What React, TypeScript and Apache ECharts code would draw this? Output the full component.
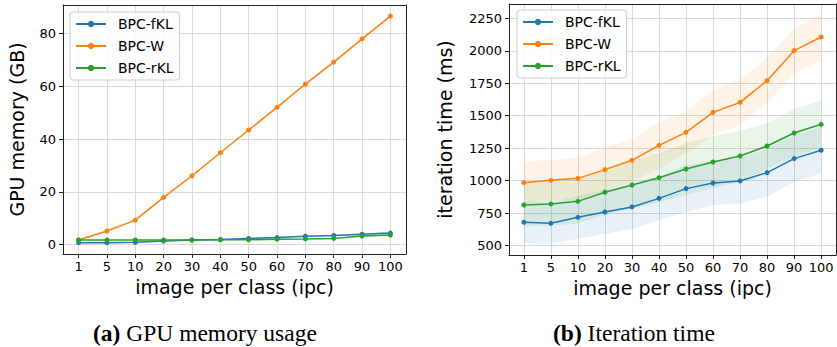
import React, { useEffect, useRef } from 'react';
import * as echarts from 'echarts';

const ipcLabels = ['1', '5', '10', '20', '30', '40', '50', '60', '70', '80', '90', '100'];
const seriesNames = ['BPC-fKL', 'BPC-W', 'BPC-rKL'];
const colors = ['#1f77b4', '#ff7f0e', '#2ca02c'];

// GPU memory (GB)
const memFKL = [0.8, 0.8, 0.9, 1.4, 1.8, 2.0, 2.4, 2.7, 3.2, 3.5, 4.0, 4.4];
const memW = [1.8, 5.2, 9.3, 17.9, 26.1, 34.8, 43.4, 52.0, 60.8, 69.1, 77.9, 86.5];
const memRKL = [1.8, 1.8, 1.8, 1.8, 1.8, 1.9, 1.9, 2.1, 2.2, 2.4, 3.3, 3.7];
const memFKLStd = [0.1, 0.1, 0.1, 0.15, 0.2, 0.25, 0.3, 0.3, 0.35, 0.35, 0.4, 0.4];
const memWStd = [0.1, 0.15, 0.2, 0.25, 0.3, 0.3, 0.3, 0.3, 0.3, 0.3, 0.3, 0.3];
const memRKLStd = [0.15, 0.15, 0.15, 0.15, 0.15, 0.2, 0.2, 0.2, 0.2, 0.25, 0.3, 0.3];
const memTicks = [0, 20, 40, 60, 80];

// iteration time (ms)
const timeFKL = [680, 672, 718, 759, 798, 864, 939, 982, 998, 1062, 1170, 1234];
const timeW = [985, 1003, 1018, 1085, 1157, 1272, 1372, 1526, 1603, 1770, 2001, 2106];
const timeRKL = [813, 821, 841, 911, 967, 1023, 1090, 1144, 1190, 1267, 1367, 1434];
const timeFKLStd = [157, 158, 165, 170, 170, 166, 180, 172, 174, 185, 178, 177];
const timeWStd = [162, 157, 160, 164, 162, 183, 160, 172, 177, 172, 172, 177];
const timeRKLStd = [165, 165, 170, 175, 180, 190, 200, 200, 195, 175, 185, 181];
const timeTicks = [500, 750, 1000, 1250, 1500, 1750, 2000, 2250];

const FONT = 'DejaVu Sans';
const idx = ipcLabels.map((_, i) => i);

function bandSeries(g: number, name: string, color: string, mean: number[], std: number[]) {
  const data = mean.map((m, i) => [i, m - std[i], m + std[i]]);
  return {
    type: 'custom', name: name + ' band', xAxisIndex: g * 2, yAxisIndex: g * 2,
    data, encode: { x: 0, y: [1, 2] }, silent: true, z: 1,
    renderItem: (params: any, api: any) => {
      if (params.dataIndex !== 0) return null;
      const upper = data.map((d) => api.coord([d[0], d[2]]));
      const lower = data.map((d) => api.coord([d[0], d[1]])).reverse();
      return {
        type: 'polygon',
        shape: { points: upper.concat(lower) },
        style: { fill: color, opacity: 0.1 },
      };
    },
  };
}

function mainSeries(g: number, name: string, color: string, mean: number[]) {
  return {
    type: 'line', name, xAxisIndex: g * 2, yAxisIndex: g * 2,
    data: mean.map((v, i) => [i, v]),
    symbol: 'circle', symbolSize: 5, showSymbol: true,
    itemStyle: { color }, lineStyle: { color, width: 1.5 }, z: 3,
  };
}

function xAxes(g: number) {
  return [
    {
      type: 'value', gridIndex: g, min: -0.55, max: 11.55, minInterval: 1, maxInterval: 1,
      axisLine: { show: true, onZero: false, lineStyle: { color: '#222', width: 1 } },
      axisTick: { show: true, length: 4, lineStyle: { color: '#222' }, customValues: idx },
      axisLabel: {
        customValues: idx,
        formatter: (v: number) => ipcLabels[Math.round(v)] ?? '',
        fontSize: 13, color: '#000', margin: 6, fontFamily: FONT,
      },
      splitLine: { show: true, lineStyle: { color: '#dadada', width: 1 } },
      name: 'image per class (ipc)', nameLocation: 'middle', nameGap: 22,
      nameTextStyle: { fontSize: 19, color: '#000', fontFamily: FONT },
    },
    {
      type: 'value', gridIndex: g, position: 'top', min: -0.55, max: 11.55,
      axisLine: { show: true, onZero: false, lineStyle: { color: '#222', width: 1 } },
      axisTick: { show: false }, axisLabel: { show: false }, splitLine: { show: false },
    },
  ];
}

function yAxes(g: number, min: number, max: number, step: number, ticks: number[], name: string, gap: number) {
  return [
    {
      type: 'value', gridIndex: g, min, max, minInterval: step, maxInterval: step,
      axisLine: { show: true, onZero: false, lineStyle: { color: '#222', width: 1 } },
      axisTick: { show: true, length: 4, lineStyle: { color: '#222' }, customValues: ticks },
      axisLabel: {
        customValues: ticks, formatter: (v: number) => String(v),
        fontSize: 13, color: '#000', margin: 7, fontFamily: FONT,
      },
      splitLine: { show: true, lineStyle: { color: '#dadada', width: 1 } },
      name, nameLocation: 'middle', nameGap: gap,
      nameTextStyle: { fontSize: 19, color: '#000', fontFamily: FONT },
    },
    {
      type: 'value', gridIndex: g, position: 'right', min, max,
      axisLine: { show: true, onZero: false, lineStyle: { color: '#222', width: 1 } },
      axisTick: { show: false }, axisLabel: { show: false }, splitLine: { show: false },
    },
  ];
}

function legend(left: number, top: number) {
  return {
    show: true, orient: 'vertical', left, top, data: seriesNames,
    backgroundColor: 'rgba(255,255,255,0.85)', borderColor: '#cccccc', borderWidth: 1, borderRadius: 3,
    padding: [5, 6, 5, 5], itemWidth: 30, itemHeight: 8, itemGap: 8,
    textStyle: { fontSize: 14, color: '#000', fontFamily: FONT, padding: [0, 0, 0, 7] },
    selectedMode: false,
  };
}

export default function App() {
  const ref = useRef<HTMLDivElement>(null);
  useEffect(() => {
    if (!ref.current) return;
    const chart = echarts.init(ref.current, undefined, { renderer: 'svg' });
    const memSets = [memFKL, memW, memRKL];
    const memStds = [memFKLStd, memWStd, memRKLStd];
    const timeSets = [timeFKL, timeW, timeRKL];
    const timeStds = [timeFKLStd, timeWStd, timeRKLStd];
    const series: any[] = [];
    seriesNames.forEach((n, k) => series.push(bandSeries(0, n, colors[k], memSets[k], memStds[k])));
    seriesNames.forEach((n, k) => series.push(bandSeries(1, n, colors[k], timeSets[k], timeStds[k])));
    seriesNames.forEach((n, k) => series.push(mainSeries(0, n, colors[k], memSets[k])));
    seriesNames.forEach((n, k) => series.push(mainSeries(1, n, colors[k], timeSets[k])));

    const capStyle = (text: string) => ({
      text, fontSize: 23.5, fontFamily: 'Liberation Serif', fill: '#000',
      rich: { b: { fontWeight: 'bold', fontSize: 23.5, fontFamily: 'Liberation Serif' } },
    });

    chart.setOption({
      animation: false,
      backgroundColor: '#ffffff',
      grid: [
        { left: 63, top: 5, width: 343, height: 249, containLabel: false },
        { left: 509, top: 4, width: 327, height: 251, containLabel: false },
      ],
      xAxis: [...xAxes(0), ...xAxes(1)],
      yAxis: [
        ...yAxes(0, -3.5, 90.7, 20, memTicks, 'GPU memory (GB)', 37),
        ...yAxes(1, 428, 2360, 250, timeTicks, 'iteration time (ms)', 55),
      ],
      legend: [legend(70, 12), legend(517, 10)],
      series,
      graphic: [
        { type: 'text', left: 93, top: 321, style: capStyle('{b|(a)} GPU memory usage') },
        { type: 'text', left: 553, top: 321, style: capStyle('{b|(b)} Iteration time') },
      ],
    });
    return () => chart.dispose();
  }, []);
  return (
    <div
      ref={ref}
      style={{ position: 'fixed', left: 0, top: 0, width: 837, height: 347, background: '#fff' }}
    />
  );
}
